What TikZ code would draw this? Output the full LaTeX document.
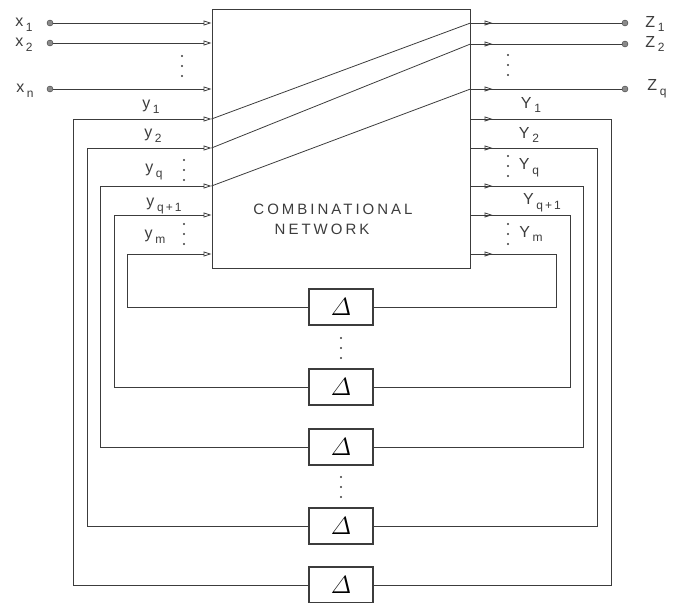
\documentclass[tikz,border=0pt]{standalone}
\usepackage{fontspec}
\setmainfont{Liberation Sans}
\newfontfamily\spaced[LetterSpace=20]{Liberation Sans}
\usepackage{xcolor}
\definecolor{ink}{RGB}{60,60,60}
\usetikzlibrary{arrows.meta,positioning,calc}
\newcommand\sbs[1]{\,\raisebox{-0.55ex}{\fontsize{12}{12}\selectfont #1}}
\tikzset{
  wire/.style={draw=ink,line width=0.8pt},
  flow/.style={wire,-{Triangle[open,length=8pt,width=5pt]}},
  block/.style={draw=ink,line width=1pt,inner sep=0pt},
  delay/.style={draw=ink,line width=1.1pt,minimum width=64pt,minimum height=36pt,%
    inner sep=0pt,font=\fontsize{24}{24}\selectfont},
  term/.style={circle,draw=ink,fill=ink!60,minimum size=6pt,inner sep=0pt},
  lbl/.style={font=\fontsize{16}{16}\selectfont,inner sep=0pt,text=ink},
  title/.style={font=\spaced\fontsize{15}{15}\selectfont,inner sep=0pt,text=ink},
  vdot/.pic={\foreach \k in {-1,0,1} \fill[ink] (0,10*\k) circle (1.1pt);},
}
\begin{document}
\begin{tikzpicture}[x=1pt,y=-1pt]
\useasboundingbox (0,0) rectangle (681,603);
\node[block,minimum width=258pt,minimum height=259pt] (net) at (341,138.5) {};
\node[title] (cn1) at (333,209) {COMBINATIONAL};
\node[title] (cn2) at (322,229) {NETWORK};

\node[term] (x1) at (50,23) {};
\node[term] (x2) at (50,43) {};
\node[term] (xn) at (50,89) {};
\node[term] (z1) at (625,23) {};
\node[term] (z2) at (625,44) {};
\node[term] (zq) at (625,89) {};
\node[lbl] (lx1) at (24,25) {x\sbs{1}};
\node[lbl] (lx2) at (24,45) {x\sbs{2}};
\node[lbl] (lxn) at (25,91) {x\sbs{n}};
\node[lbl] (lz1) at (655,24) {Z\sbs{1}};
\node[lbl] (lz2) at (655,44) {Z\sbs{2}};
\node[lbl] (lzq) at (657,89) {Z\sbs{q}};

\foreach \t in {x1,x2,xn} \draw[flow] (\t) -- (\t -| net.west);
\foreach \t in {z1,z2,zq} {
  \draw[wire] (\t -| net.east) -- (\t);
  \draw[flow] (\t -| net.east) -- ++(22,0);
}

\foreach \i/\lv/\xl/\xr/\dy in {1/119/73/611/585,2/148/87/597/526,%
    3/186/100/583/447,4/215/114/570/387,5/254/127/556/307} {
  \node[delay] (d\i) at (341,\dy) {$\mathnormal{\Delta}$};
  \coordinate (yi\i) at (net.west |- 0,\lv);
  \coordinate (yo\i) at (net.east |- 0,\lv);
  \draw[flow] (d\i.west) -| (\xl,\lv) -- (yi\i);
  \draw[wire] (yo\i) -- (\xr,\lv) |- (d\i.east);
  \draw[flow] (yo\i) -- ++(22,0);
}
\draw[wire] (yi1) -- (z1 -| net.east);
\draw[wire] (yi2) -- (z2 -| net.east);
\draw[wire] (yi3) -- (zq -| net.east);

\node[lbl] (ly1) at (151,107) {y\sbs{1}};
\node[lbl] (ly2) at (153,136) {y\sbs{2}};
\node[lbl] (lyq) at (154,172) {y\sbs{q}};
\node[lbl] (lyq1) at (164,206) {y\sbs{q\,+\,1}};
\node[lbl] (lym) at (155,237) {y\sbs{m}};
\node[lbl] (lY1) at (531,105) {Y\sbs{1}};
\node[lbl] (lY2) at (529,135) {Y\sbs{2}};
\node[lbl] (lYq) at (529,168) {Y\sbs{q}};
\node[lbl] (lYq1) at (542,203) {Y\sbs{q\,+\,1}};
\node[lbl] (lYm) at (531,234) {Y\sbs{m}};

\pic at (182,66) {vdot};
\pic at (508,65) {vdot};
\pic at (184,170) {vdot};
\pic at (184,234) {vdot};
\pic at (508,166) {vdot};
\pic at (508,234) {vdot};
\pic at (341,348) {vdot};
\pic at (341,487) {vdot};
\end{tikzpicture}
\end{document}
